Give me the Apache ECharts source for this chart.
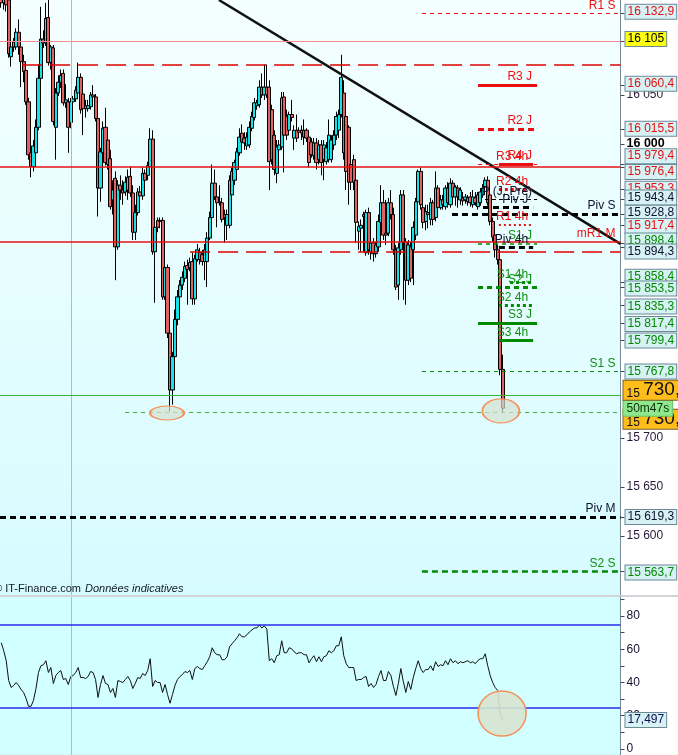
<!DOCTYPE html>
<html><head><meta charset="utf-8">
<script src="https://cdn.jsdelivr.net/npm/echarts@6/dist/echarts.min.js"></script>
<style>html,body{margin:0;padding:0;background:#fff}#c{width:678px;height:755px}</style>
</head><body><div id="c"></div>
<script>
// ---------- DATA ----------
const opens = [16157,16144,16152,16147,16089,16099,16099,16114,16099,16084,
16075,16043,15991,15977,15991,16017,16067,16107,16103,16129,
16083,16098,16017,16052,16063,16072,16042,16043,16022,16043,
16046,16052,16068,16051,16039,16036,16038,16050,16048,16026,
15955,15991,16017,16004,15985,15943,15965,15895,15958,15953,
15951,15953,15967,15950,15910,15930,15951,15947,15970,15968,
15977,16005,15890,15922,15922,15922,15844,15874,15807,15749,
15783,15821,15844,15856,15863,15876,15874,15880,15842,15882,
15889,15887,15880,15880,15904,15925,15960,15946,15941,15940,
15928,15917,15917,15948,15963,15974,15991,16011,16006,15998,
15999,16016,16027,16039,16040,16058,16050,16058,16058,16035,
16009,15970,15994,15997,16048,16028,16014,16030,16006,16014,
16014,16014,16014,16014,16007,16002,15988,16001,15984,15999,
15984,15982,15984,15984,15999,16009,16014,16030,16052,16028,
16017,15979,15984,15963,15911,15914,15928,15889,15930,15890,
15899,15888,15895,15920,15940,15909,15909,15940,15928,15892,
15856,15892,15948,15900,15861,15895,15892,15907,15941,15972,
15935,15921,15930,15923,15940,15925,15955,15935,15943,15936,
15955,15938,15960,15946,15955,15943,15945,15943,15941,15946,
15938,15945,15936,15940,15948,15956,15963,15948,15921,15907,
15892,15882,15770];
const closes = [16144,16152,16142,16092,16099,16104,16114,16099,16084,16074,
16043,15989,15977,15998,16017,16067,16107,16103,16128,16083,
16099,16023,16052,16063,16070,16042,16045,16017,16043,16046,
16055,16068,16035,16036,16036,16039,16050,16048,16026,15955,
15992,16016,15981,15979,15936,15953,15895,15958,15953,15950,
15961,15966,15950,15910,15930,15951,15947,15970,15963,15978,
16005,15890,15915,15915,15921,15844,15874,15807,15749,15783,
15821,15844,15856,15864,15875,15872,15879,15842,15883,15892,
15882,15880,15892,15904,15925,15960,15946,15940,15940,15923,
15925,15928,15963,15972,15981,15992,16007,16002,16001,16007,
16017,16028,16042,16042,16058,16050,16058,16050,15982,15984,
15974,15997,15999,16047,16009,16009,16030,16027,16014,16006,
16012,16011,16007,16006,15981,15989,16001,15981,15999,15981,
15999,15996,16009,16004,16009,16028,16030,16068,15991,15972,
15961,15961,15961,15920,15916,15917,15926,15930,15892,15899,
15888,15897,15921,15940,15907,15907,15940,15928,15892,15854,
15894,15948,15900,15861,15897,15863,15915,15941,15972,15938,
15920,15931,15928,15940,15923,15955,15935,15943,15938,15955,
15940,15960,15946,15956,15946,15953,15942,15946,15945,15940,
15946,15940,15948,15951,15955,15963,15940,15921,15905,15892,
15882,15770,15730.4];
const lows = [16139,16137,16135,16088,16079,16094,16096,16091,16058,16063,
16040,15984,15966,15972,15988,16014,16065,16098,16100,16080,
16076,16019,15984,16049,16057,16039,16037,15991,16016,16041,
16043,16050,16031,16009,16027,16033,16035,16045,16023,15926,
15941,15986,15978,15974,15933,15928,15861,15892,15943,15938,
15947,15943,15946,15902,15902,15927,15943,15943,15958,15963,
15974,15887,15838,15910,15914,15841,15841,15802,15727,15734,
15778,15815,15841,15851,15859,15836,15870,15836,15836,15880,
15877,15876,15861,15854,15902,15923,15943,15915,15937,15920,
15899,15902,15914,15943,15958,15972,15988,15998,15994,15994,
15996,16013,16024,16035,16037,16047,16045,16047,15953,15979,
15968,15960,15989,15994,15971,16004,16011,16023,15994,16002,
16009,16004,15999,16002,15976,15986,15984,15974,15979,15968,
15963,15979,15981,15981,15994,16004,16006,16027,15984,15953,
15938,15953,15953,15899,15892,15890,15890,15886,15887,15882,
15880,15884,15890,15916,15902,15897,15906,15923,15887,15851,
15841,15887,15841,15836,15856,15859,15856,15902,15938,15933,
15914,15912,15914,15917,15917,15921,15931,15933,15933,15933,
15935,15935,15943,15937,15935,15938,15937,15939,15937,15936,
15935,15937,15933,15937,15945,15953,15937,15917,15900,15884,
15877,15764,15726];
const highs = [16162,16159,16157,16152,16125,16108,16118,16127,16106,16091,
16080,16047,15994,16004,16025,16081,16140,16116,16144,16147,
16101,16101,16057,16070,16076,16076,16061,16047,16047,16049,
16059,16083,16072,16055,16045,16045,16053,16060,16051,16040,
15996,16023,16037,16009,15994,15963,15972,15963,15968,15963,
15967,15974,15977,15958,15938,15955,15957,15976,15974,15982,
16016,16014,15921,15925,15925,15925,15880,15877,15810,15788,
15831,15851,15861,15870,15880,15882,15884,15889,15887,15898,
15894,15892,15898,15910,15931,15979,15974,15953,15958,15945,
15933,15933,15968,15976,15984,15996,16016,16020,16012,16012,
16023,16033,16047,16045,16065,16072,16081,16081,16065,16040,
16014,16004,16004,16053,16053,16035,16033,16045,16019,16030,
16017,16019,16025,16016,16012,16006,16006,16006,16004,16004,
16004,16002,16025,16009,16014,16033,16035,16091,16065,16035,
16019,15984,15989,15968,15921,15923,15931,15933,15935,15902,
15904,15900,15928,15958,15953,15943,15945,15953,15935,15897,
15899,15953,15953,15904,15902,15900,15921,15945,15974,15976,
15943,15938,15938,15945,15943,15972,15958,15948,15948,15958,
15961,15965,15963,15958,15958,15956,15951,15949,15948,15951,
15953,15951,15951,15955,15959,15966,15967,15953,15925,15912,
15897,15892,15785];
const rsi = [63.9,59.1,53.1,41.2,37.0,38.2,40.0,38.2,35.8,34.0,
30.4,25.7,25.7,29.3,36.4,46.0,50.1,50.7,53.1,46.0,
49.0,39.4,44.2,46.0,47.2,41.8,42.4,38.8,43.6,44.2,
46.0,49.0,43.0,43.0,42.4,43.6,46.6,46.0,41.8,31.0,
38.8,44.2,39.4,38.8,34.0,36.4,31.0,41.2,40.6,40.0,
41.8,43.6,41.2,36.4,39.4,43.0,42.4,45.4,44.2,47.2,
54.3,37.6,41.2,40.0,40.0,34.0,38.8,32.8,27.5,32.8,
38.2,41.8,43.6,44.8,46.6,46.0,47.2,41.8,48.4,49.6,
48.4,47.8,50.1,52.5,55.5,60.9,57.9,56.7,56.7,53.7,
53.7,55.5,61.5,63.3,65.1,66.9,69.3,67.5,67.5,68.7,
70.4,71.6,72.8,72.8,74.6,72.8,74.0,72.2,53.1,54.3,
51.9,56.1,56.7,65.1,57.9,57.9,60.9,60.3,58.5,57.3,
57.9,57.9,56.7,56.7,51.9,54.3,56.1,52.5,55.5,52.5,
55.5,56.1,59.1,57.9,59.1,62.1,62.1,67.5,56.1,51.3,
49.0,49.0,49.0,41.2,41.8,41.8,43.0,43.6,37.6,39.4,
37.0,38.8,43.6,47.2,41.2,41.2,46.6,44.2,37.6,32.2,
39.4,48.4,40.6,34.0,40.6,35.8,43.0,48.4,53.1,48.4,
46.0,47.8,47.8,50.1,47.2,52.5,49.6,50.7,50.1,53.1,
50.7,54.3,51.9,53.1,51.3,52.5,51.9,52.5,53.1,51.9,
52.5,51.3,53.1,54.3,54.3,57.3,50.1,44.2,40.0,37.0,
35.2,21.5,17.497];

// price levels (names and values)
const levelNames  = ['R1 S','R3 J','R2 J','R4 J','R3 4h','R2 4h','P (J, Pré)','Piv J','Piv S','R1 4h','mR1 M','S1 J','Piv 4h','S1 4h','S2 J','S2 4h','S3 J','S3 4h','S1 S','Piv M','S2 S'];
const levelValues = [16132.9,16060.4,16015.5,15979.4,15979.0,15953.3,15943.4,15935.0,15928.8,15917.4,15900.0,15898.4,15894.3,15858.4,15853.5,15835.3,15817.4,15799.4,15767.8,15619.3,15563.7];
const otherLevels = [16105, 16080.6, 15976.4, 15889.8, 15744, 15726];   // unlabeled horizontal lines
const boxValues = [16132.9,16105,16060.4,16015.5,15979.4,15976.4,15953.3,15943.4,15928.8,15917.4,15898.4,15894.3,15858.4,15853.5,15835.3,15817.4,15799.4,15767.8,15619.3,15563.7];
const lastPrice = 15730.4;
const countdown = '50m47s';
const lastRsi = 17.497;
const priceTicks = [15600,15650,15700,16000,16050];
const rsiTicks = [0,20,40,60,80];
const rsiBands = [25,75];
const lowMarks = [[66.8,15725.5],[201.3,15727.6]];   // [candle index, price] of circled lows
const trendFrom = [87.7,16146.9], trendTo = [249.5,15898];
const daySplit = 28.3;

// ---------- HELPERS ----------
const FONT = 'Liberation Sans, Arial, Helvetica, sans-serif';
const N = 250;
function fmtPrice(v){
  const s = (Math.round(v*10)/10).toFixed(1).split('.');
  const i = s[0].replace(/\B(?=(\d{3})+(?!\d))/g,' ');
  return s[1]==='0' ? i : i+','+s[1];
}
const RED='#e81010', GRN='#008a00', BLK='#000000';
const candleData = opens.map((o,i)=>[o, closes[i], lows[i], highs[i]]);
const cats = Array.from({length:N},(_,i)=>String(i));

// segment extents in candle-index units (style/layout, not data)
const J=[192.1,215.9], H4=[200.5,214.3], W=[169.5,249.5], FULL=[-0.5,249.5];
const segStyle = [
  [W,  RED,1,[4,4], '#f01010'],      // R1 S
  [J,  RED,3,'solid','#f01010'],     // R3 J
  [J,  RED,3,[6,4], '#f01010'],      // R2 J
  [J,  RED,1,[4,4], '#f01010'],      // R4 J
  [H4, RED,3,'solid','#f01010'],     // R3 4h
  [H4, RED,3,[3,3], '#f01010'],      // R2 4h
  [[194.9,215.9], BLK,1,[4,3],'#101030'], // P (J, Pré)
  [[194.1,214.3], BLK,3,[6,4],'#101030'], // Piv J
  [[181.6,249.5], BLK,3,[6,4],'#101030'], // Piv S
  [H4, RED,2,[2,3], '#f01010'],      // R1 4h
  [FULL, RED,1.5,'solid','#f01010'], // mR1 M
  [J,  GRN,1.5,[4,4],'#109010'],     // S1 J
  [H4, BLK,3,[6,4],'#101030'],       // Piv 4h
  [[205,214.3], GRN,3,[3,3],'#109010'], // S1 4h
  [J,  GRN,3,[5,4],'#109010'],       // S2 J
  [H4, GRN,3,[3,3],'#109010'],       // S2 4h
  [J,  GRN,3,'solid','#109010'],     // S3 J
  [H4, GRN,3,'solid','#109010'],     // S3 4h
  [W,  GRN,1,[4,4],'#109010'],       // S1 S
  [FULL, BLK,3,[6,4],'#101030'],     // Piv M
  [W,  GRN,2.5,[6,4],'#109010']      // S2 S
];
const otherStyle = [
  [FULL,'#ff8c8c',1,'solid'],
  [[8.4,249.5],'#e00000',1.5,[20,8]],
  [FULL,RED,1.5,'solid'],
  [[76.1,249.5],'#e00000',1.5,[20,8]],
  [FULL,'#3cb43c',1,'solid'],
  [[49.9,249.5],'#3cb43c',1,[4,4]]
];
const segLines = [];
levelNames.forEach((nm,k)=>{
  const [ext,c,w,t,lc] = segStyle[k];
  segLines.push([{coord:[ext[0],levelValues[k]], lineStyle:{color:c,width:w,type:t},
    label:{show:true, formatter:nm, position:'insideEndTop', distance:[5,2], color:lc, fontSize:12, fontFamily:FONT}},
    {coord:[ext[1],levelValues[k]]}]);
});
otherLevels.forEach((v,k)=>{
  const [ext,c,w,t] = otherStyle[k];
  segLines.push([{coord:[ext[0],v], lineStyle:{color:c,width:w,type:t}, label:{show:false}},{coord:[ext[1],v]}]);
});

// right axis boxes
const boxColor = [RED,'#000',RED,RED,RED,RED,RED,'#101030','#101030',RED,GRN,'#101030',GRN,GRN,GRN,GRN,GRN,GRN,'#101030',GRN];
const boxShift = [-2,-2,-1,0,-8,5,-1,-2,-1,1,-3,4,-6,1,1,1,0,0,0,1];
const boxLines = boxValues.map((v,k)=>({
  yAxis:v, lineStyle:{width:0,color:'rgba(0,0,0,0)'},
  label:{show:true, position:'end', distance:5, offset:[0,boxShift[k]], formatter:fmtPrice(v),
    color:boxColor[k], fontSize:12, fontFamily:FONT, lineHeight:13, padding:[1,2,0,2],
    backgroundColor: k===1 ? '#ffff10' : '#d6f2f4', borderColor:'#6b8a96', borderWidth:1}
}));
const lp = fmtPrice(lastPrice).split(' ');
const orangeBox = (dy)=>({
  yAxis:lastPrice, lineStyle:{width:0,color:'rgba(0,0,0,0)'},
  label:{show:true, position:'end', distance:3, offset:[0,dy],
    formatter:'{s|'+lp[0]+' }{b|'+lp[1]+'}', backgroundColor:'#ffbd1c', borderColor:'#7a6020', borderWidth:1, padding:[0,2,0,3],
    rich:{s:{fontSize:12,fontFamily:FONT,color:'#101010',verticalAlign:'bottom',lineHeight:19},
          b:{fontSize:19,fontFamily:FONT,color:'#101010',lineHeight:19}}}
});
boxLines.push(orangeBox(11));
boxLines.push({yAxis:lastPrice, lineStyle:{width:0,color:'rgba(0,0,0,0)'},
  label:{show:true, position:'end', distance:3, offset:[0,0], formatter:countdown, color:'#0a300a', fontSize:12, fontFamily:FONT,
    lineHeight:14, padding:[1,3,0,3], backgroundColor:'#8ee88e', borderColor:'#6abf6a', borderWidth:1}});
boxLines.push(orangeBox(-18));

const chart = echarts.init(document.getElementById('c'), null, {renderer:'canvas'});
const option = {
  animation:false,
  backgroundColor:'#ffffff',
  grid:[
    {left:0, top:0, width:620.5, height:595, containLabel:false, outerBoundsMode:'none', show:true, borderWidth:0,
     backgroundColor:new echarts.graphic.LinearGradient(0,0,0,1,[{offset:0,color:'#f4ffff'},{offset:1,color:'#d6fbff'}])},
    {left:0, top:597, width:620.5, height:158, containLabel:false, outerBoundsMode:'none', show:true, borderWidth:0, backgroundColor:'#d2ffff'}
  ],
  xAxis:[
    {type:'category', gridIndex:0, data:cats, boundaryGap:true, show:false},
    {type:'value', gridIndex:0, min:-0.5, max:N-0.5, show:false},
    {type:'value', gridIndex:1, min:-0.5, max:N-0.5, show:false}
  ],
  yAxis:[
    {type:'value', gridIndex:0, position:'right', min:15539.8, max:16146.9, splitLine:{show:false},
     axisLine:{show:true, onZero:false, lineStyle:{color:'#7a8a98', width:1}},
     axisTick:{show:true, length:4, customValues:priceTicks.concat(boxValues), lineStyle:{color:'#3a4a5a'}},
     axisLabel:{show:true, customValues:priceTicks, margin:6, fontFamily:FONT, fontSize:12, color:'#2a1838',
       formatter:v=> v===16000 ? '{b|'+fmtPrice(v)+'}' : fmtPrice(v),
       rich:{b:{fontWeight:'bold', fontSize:12.5, color:'#000', fontFamily:FONT}}}},
    {type:'value', gridIndex:1, position:'right', min:-3.61, max:91.43, splitLine:{show:false},
     axisLine:{show:true, onZero:false, lineStyle:{color:'#7a8a98', width:1}},
     axisTick:{show:true, length:4, customValues:[0,10,20,30,40,50,60,70,80,90], lineStyle:{color:'#3a4a5a'}},
     axisLabel:{show:true, customValues:rsiTicks, margin:6, fontFamily:FONT, fontSize:12, color:'#1a1030', formatter:v=>String(v)}}
  ],
  graphic:[
    {type:'line', shape:{x1:0,y1:596,x2:678,y2:596}, style:{stroke:'#a4acb4', lineWidth:1}, z:50},
    {type:'text', left:-6, top:583, style:{text:'© IT-Finance.com', fontFamily:FONT, fontSize:11, fill:'#101828'}, z:50},
    {type:'text', left:85, top:583, style:{text:'Données indicatives', fontFamily:FONT, fontSize:11, fontStyle:'italic', fill:'#101828'}, z:50}
  ],
  series:[
    {type:'line', xAxisIndex:1, yAxisIndex:0, data:[], z:1, silent:true,
     markLine:{symbol:['none','none'], silent:true, animation:false, label:{show:false},
       data:[{xAxis:daySplit, lineStyle:{color:'#f2a0a0', width:1, type:'solid'}}]}},
    {type:'candlestick', xAxisIndex:0, yAxisIndex:0, data:candleData, barWidth:3.6, z:2, silent:true,
     itemStyle:{color:'#14e2e6', color0:'#e2605f', borderColor:'#000', borderColor0:'#000', borderWidth:1}},
    {type:'line', xAxisIndex:1, yAxisIndex:0, data:[], z:3, silent:true,
     markLine:{symbol:['none','none'], silent:true, animation:false, data:segLines}},
    {type:'line', xAxisIndex:1, yAxisIndex:0, data:[trendFrom, trendTo], z:4, symbol:'none', silent:true,
     lineStyle:{color:'#101010', width:2.5}},
    {type:'line', xAxisIndex:1, yAxisIndex:0, data:[], z:5, silent:true,
     markPoint:{silent:true, animation:false, label:{show:false},
       data:lowMarks.map((p,k)=>({coord:p, symbol:'circle', symbolSize: k===0?[34,14]:[37,24],
         itemStyle:{color:'rgba(214,224,206,0.7)', borderColor:'#f4915c', borderWidth:1.5}}))}},
    {type:'line', xAxisIndex:1, yAxisIndex:0, data:[], z:6, silent:true,
     markLine:{symbol:['none','none'], silent:true, animation:false, data:boxLines}},
    // RSI panel
    {type:'line', xAxisIndex:2, yAxisIndex:1, data:[], z:1, silent:true,
     markLine:{symbol:['none','none'], silent:true, animation:false, label:{show:false},
       data:[{xAxis:daySplit, lineStyle:{color:'#f2a0a0', width:1, type:'solid'}},
             ...rsiBands.map(b=>({yAxis:b, lineStyle:{color:'#2a2ae6', width:1.5, type:'solid'}}))]}},
    {type:'line', xAxisIndex:2, yAxisIndex:1, data:[], z:2, silent:true,
     markPoint:{silent:true, animation:false, label:{show:false},
       data:[{coord:[201.8,21.35], symbol:'circle', symbolSize:[48,45],
         itemStyle:{color:'rgba(214,228,208,0.9)', borderColor:'#f4915c', borderWidth:1.5}}]}},
    {type:'line', xAxisIndex:2, yAxisIndex:1, data:rsi.map((v,i)=>[i,v]), z:3, symbol:'none', silent:true,
     lineStyle:{color:'#101010', width:1}},
    {type:'line', xAxisIndex:2, yAxisIndex:1, data:[], z:6, silent:true,
     markLine:{symbol:['none','none'], silent:true, animation:false,
       data:[{yAxis:lastRsi, lineStyle:{width:0,color:'rgba(0,0,0,0)'},
         label:{show:true, position:'end', distance:5, formatter:String(lastRsi).replace('.',','), color:'#101050', fontSize:12, fontFamily:FONT,
           lineHeight:13, padding:[1,2,0,2], backgroundColor:'#d6f2f4', borderColor:'#6b8a96', borderWidth:1}}]}}
  ]
};
chart.setOption(option);
</script>
</body></html>
